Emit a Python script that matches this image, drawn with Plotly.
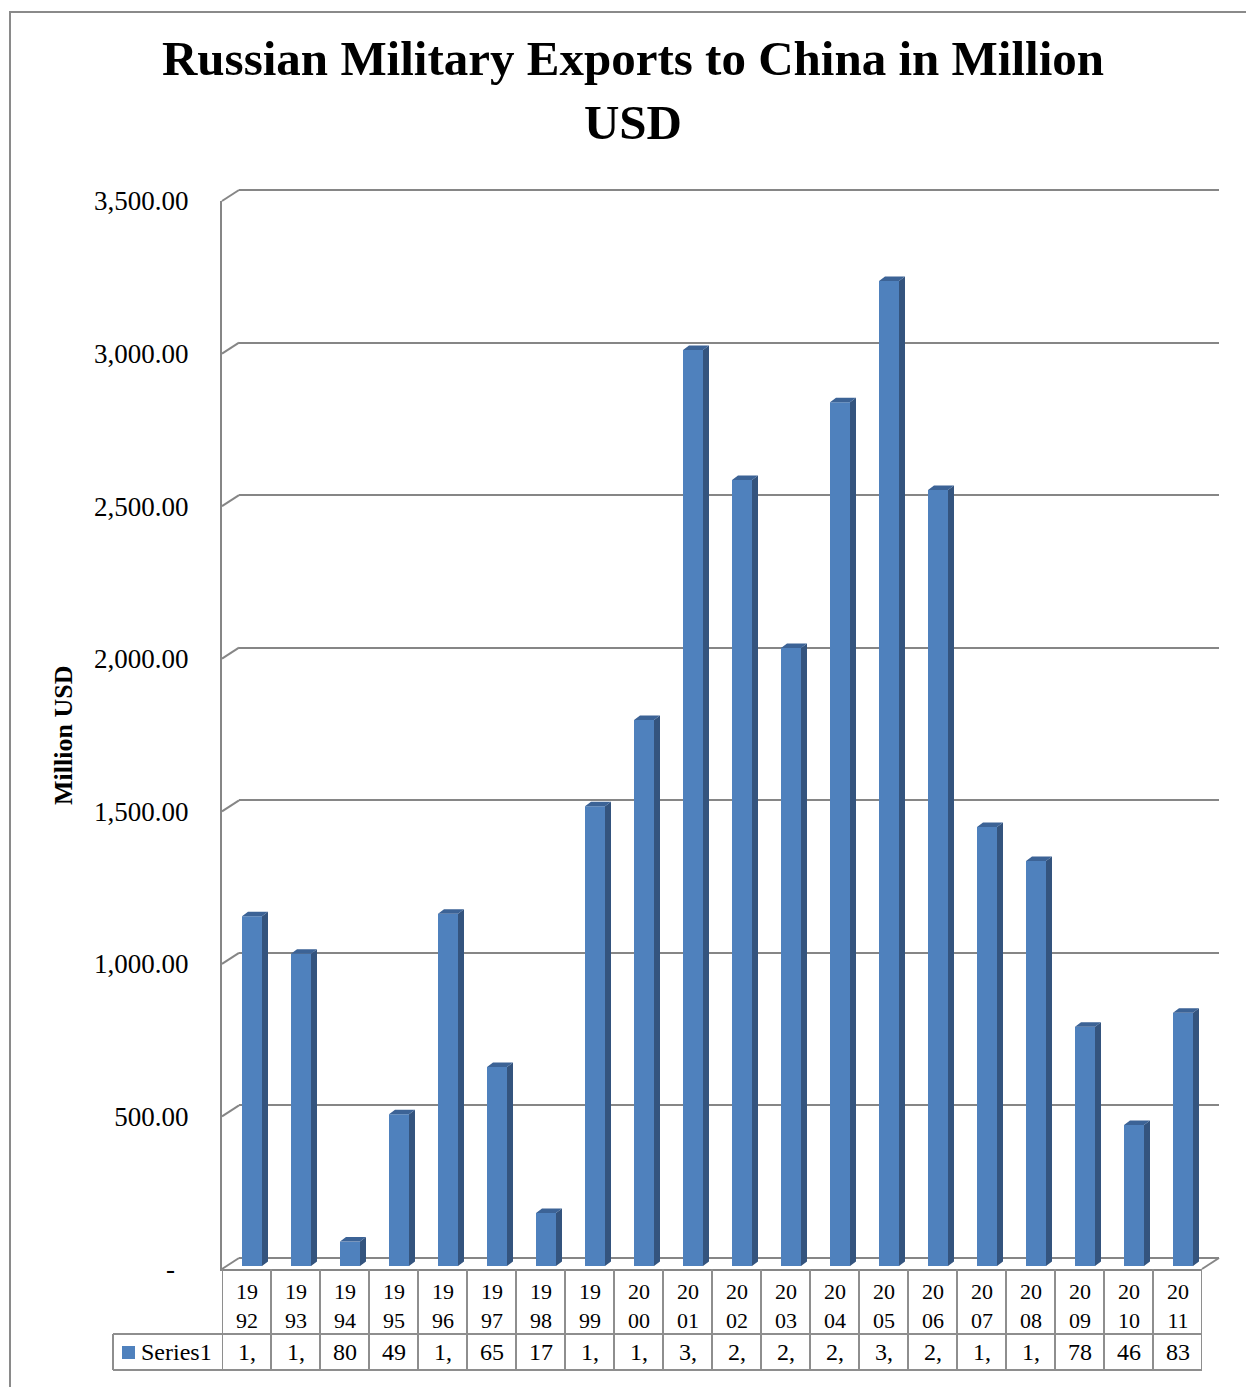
import plotly.graph_objects as go

# ---- data ----
years = [1992, 1993, 1994, 1995, 1996, 1997, 1998, 1999, 2000, 2001,
         2002, 2003, 2004, 2005, 2006, 2007, 2008, 2009, 2010, 2011]
exports_musd = [1146, 1023, 80, 497, 1154, 652, 174, 1507, 1789, 3002,
                2576, 2025, 2831, 3228, 2543, 1439, 1327, 784, 462, 830]
series_name = "Series1"
y_ticks = [0, 500, 1000, 1500, 2000, 2500, 3000, 3500]

# ---- page geometry (pixels) ----
W, H = 1246, 1387
FONT = "Liberation Serif"
BLUE = "#4F81BD"
SIDE = "#34547E"
TOP = "#3C6396"
GRID = "#868686"
TABLE = "#8E8E8E"

def fx(p):
    return p / W

def fy(p):
    return 1 - p / H

Y_MAX = 3500
PAD = 20                 # range padding so the edge gridlines are kept
PLOT_H = 1068            # pixel height of the 0..3500 span
UNIT = PLOT_H / Y_MAX    # pixels per million USD
SLOT = 49                # pixel width of one category
N = len(years)

FRONT_X0, FRONT_Y0 = 222, 1269       # front plane: left edge, zero line
FRONT_X1 = FRONT_X0 + SLOT * N
DEPTH_DX, DEPTH_DY = 17, 11          # front -> back wall shift
BAR_DX, BAR_DY = 5.5, 3              # front -> bar front face shift
BAR_W_PX = 20
FACE_DX, FACE_DY = 6, 4.5            # bar front face -> bar back face

ROW1_BOTTOM = 1334
ROW2_BOTTOM = 1370
TABLE_LEFT = 113

def x_dom(x0):
    return [fx(x0), fx(x0 + SLOT * N)]

def y_dom(y0, pad=0):
    return [fy(y0 + pad * UNIT), fy(y0 - PLOT_H - pad * UNIT)]

idx = list(range(N))
bw = BAR_W_PX / SLOT
ddx = FACE_DX / SLOT
ddy = FACE_DY / UNIT

fig = go.Figure()

# back wall subplot (grid only)
fig.add_trace(go.Scatter(x=[None], y=[None], xaxis="x", yaxis="y",
                         showlegend=False, hoverinfo="skip"))

# bar front faces
fig.add_trace(go.Bar(x=idx, y=exports_musd, width=bw, xaxis="x2", yaxis="y2",
                     marker=dict(color=BLUE, line=dict(width=0)),
                     name=series_name, showlegend=False, hoverinfo="skip"))

# bar side faces and top faces
sx, sy, tx, ty = [], [], [], []
for i, v in zip(idx, exports_musd):
    r = i + bw / 2
    l = i - bw / 2
    sx += [r, r + ddx, r + ddx, r, r, None]
    sy += [0, ddy, v + ddy, v, 0, None]
    tx += [l, r, r + ddx, l + ddx, l, None]
    ty += [v, v, v + ddy, v + ddy, v, None]
fig.add_trace(go.Scatter(x=sx, y=sy, xaxis="x2", yaxis="y2", mode="lines",
                         fill="toself", fillcolor=SIDE, line=dict(width=0, color=SIDE),
                         showlegend=False, hoverinfo="skip"))
fig.add_trace(go.Scatter(x=tx, y=ty, xaxis="x2", yaxis="y2", mode="lines",
                         fill="toself", fillcolor=TOP, line=dict(width=0, color=TOP),
                         showlegend=False, hoverinfo="skip"))

# front plane subplot (value axis and table columns)
fig.add_trace(go.Scatter(x=[None], y=[None], xaxis="x3", yaxis="y3",
                         showlegend=False, hoverinfo="skip"))

tick_text = ["-\u00a0\u00a0" if t == 0 else f"{t:,.2f}" for t in y_ticks]

hidden_x = dict(range=[-0.5, N - 0.5], showgrid=False, zeroline=False,
                showticklabels=False, showline=False, ticks="", automargin=False)

fig.update_layout(
    template="none",
    width=W, height=H,
    margin=dict(l=0, r=0, t=0, b=0, pad=0),
    paper_bgcolor="white", plot_bgcolor="rgba(0,0,0,0)",
    font=dict(family=FONT, color="black"),
    title=dict(text="Russian Military Exports to China in Million<br>USD",
               x=fx(633), xanchor="center", y=fy(75), yanchor="middle",
               font=dict(family=FONT, size=49, weight="bold", color="black")),
    xaxis=dict(domain=x_dom(FRONT_X0 + DEPTH_DX), anchor="y", **hidden_x),
    yaxis=dict(domain=y_dom(FRONT_Y0 - DEPTH_DY, PAD), anchor="x",
               range=[-PAD, Y_MAX + PAD], tickvals=y_ticks,
               showgrid=True, gridcolor=GRID, gridwidth=2, zeroline=False,
               showticklabels=False, showline=False, ticks="", automargin=False),
    xaxis2=dict(domain=x_dom(FRONT_X0 + BAR_DX), anchor="y2", **hidden_x),
    yaxis2=dict(domain=y_dom(FRONT_Y0 - BAR_DY), anchor="x2", range=[0, Y_MAX],
                showgrid=False, zeroline=False, showticklabels=False,
                showline=False, ticks="", automargin=False),
    xaxis3=dict(domain=x_dom(FRONT_X0), anchor="y3", range=[-0.5, N - 0.5],
                showgrid=False, zeroline=False, showticklabels=False,
                showline=True, linecolor=GRID, linewidth=2, ticks="", automargin=False),
    yaxis3=dict(domain=y_dom(FRONT_Y0), anchor="x3", range=[0, Y_MAX],
                tickvals=y_ticks, ticktext=tick_text, showgrid=False,
                zeroline=False, showline=True, linecolor=GRID, linewidth=2,
                ticks="", ticklabelstandoff=26, automargin=False,
                tickfont=dict(family=FONT, size=27, color="black")),
    showlegend=False,
)

shapes = []
# outer chart border
shapes.append(dict(type="rect", xref="paper", yref="paper",
                   x0=fx(10), x1=fx(1262), y0=fy(1400), y1=fy(12),
                   line=dict(color="#8A8A8A", width=2), layer="below"))

# side-wall diagonals joining the front axis to each back gridline
for t in y_ticks:
    yf = FRONT_Y0 - t * UNIT
    shapes.append(dict(type="line", xref="paper", yref="paper",
                       x0=fx(FRONT_X0), y0=fy(yf),
                       x1=fx(FRONT_X0 + DEPTH_DX), y1=fy(yf - DEPTH_DY),
                       line=dict(color=GRID, width=2)))
# floor right edge
shapes.append(dict(type="line", xref="paper", yref="paper",
                   x0=fx(FRONT_X1), y0=fy(FRONT_Y0),
                   x1=fx(FRONT_X1 + DEPTH_DX), y1=fy(FRONT_Y0 - DEPTH_DY),
                   line=dict(color=GRID, width=2)))

# data table grid
for k in range(N + 1):
    shapes.append(dict(type="line", xref="x3", yref="paper",
                       x0=k - 0.5, x1=k - 0.5, y0=fy(FRONT_Y0), y1=fy(ROW2_BOTTOM),
                       line=dict(color=TABLE, width=2)))
for yy in (ROW1_BOTTOM, ROW2_BOTTOM):
    shapes.append(dict(type="line", xref="paper", yref="paper",
                       x0=fx(TABLE_LEFT), x1=fx(FRONT_X1), y0=fy(yy), y1=fy(yy),
                       line=dict(color=TABLE, width=2)))
shapes.append(dict(type="line", xref="paper", yref="paper",
                   x0=fx(TABLE_LEFT), x1=fx(TABLE_LEFT), y0=fy(ROW1_BOTTOM), y1=fy(ROW2_BOTTOM),
                   line=dict(color=TABLE, width=2)))
# legend key in the table
shapes.append(dict(type="rect", xref="paper", yref="paper",
                   x0=fx(122), x1=fx(135), y0=fy(1359), y1=fy(1346),
                   fillcolor=BLUE, line=dict(width=0)))

annotations = []
# table: category row
for i, yr in enumerate(years):
    s = str(yr)
    annotations.append(dict(xref="x3", yref="paper", x=i, y=fy((FRONT_Y0 + ROW1_BOTTOM) / 2 + 4),
                            text=s[:2] + "<br>" + s[2:], showarrow=False,
                            xanchor="center", yanchor="middle",
                            font=dict(family=FONT, size=22, color="black")))
# table: value row (cells too narrow for the full number)
for i, v in enumerate(exports_musd):
    annotations.append(dict(xref="x3", yref="paper", x=i, y=fy((ROW1_BOTTOM + ROW2_BOTTOM) / 2),
                            text=f"{v:,.2f}"[:2], showarrow=False,
                            xanchor="center", yanchor="middle",
                            font=dict(family=FONT, size=24, color="black")))
annotations.append(dict(xref="paper", yref="paper", x=fx(139), y=fy((ROW1_BOTTOM + ROW2_BOTTOM) / 2),
                        text=series_name, showarrow=False, xanchor="left", yanchor="middle",
                        font=dict(family=FONT, size=24, color="black")))
# value axis title
annotations.append(dict(xref="paper", yref="paper", x=fx(63), y=fy(736),
                        text="Million USD", textangle=-90, showarrow=False,
                        xanchor="center", yanchor="middle",
                        font=dict(family=FONT, size=26, weight="bold", color="black")))

fig.update_layout(shapes=shapes, annotations=annotations)
fig.write_html("out.html")
